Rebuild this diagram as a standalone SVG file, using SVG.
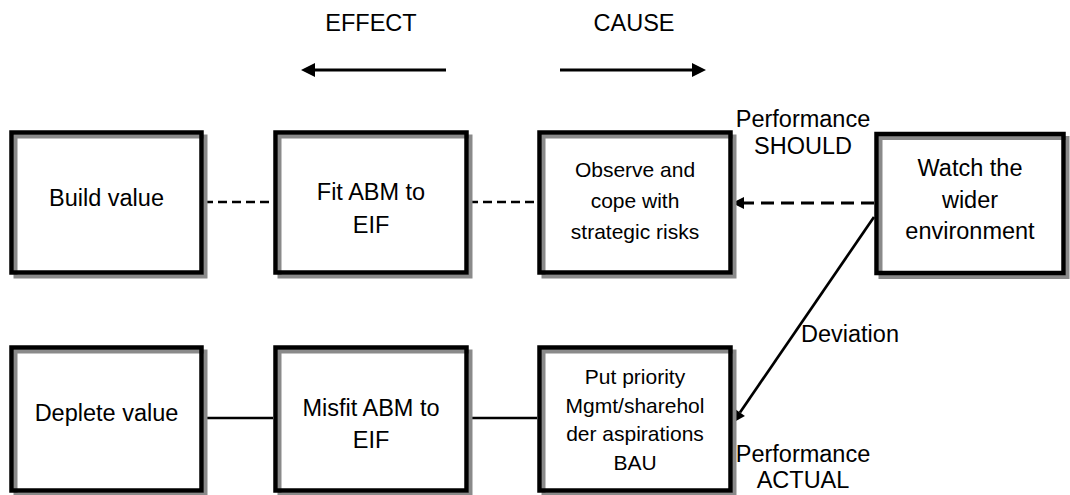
<svg xmlns="http://www.w3.org/2000/svg" width="1070" height="495" viewBox="0 0 1070 495">
  <style>
    .shadow { fill: #fff; stroke: #8a8a8a; stroke-width: 4; }
    .frame { fill: none; stroke: #000; stroke-width: 4.5; }
    .txt { font-family: "Liberation Sans", Arial, Helvetica, sans-serif; font-size: 23.5px; fill: #000; text-anchor: middle; }
    .sm { font-size: 21px; }
    .start { text-anchor: start; }
    .link { stroke: #000; stroke-width: 2.7; fill: none; }
    .dash { stroke-dasharray: 9 5; }
    .dash2 { stroke-dasharray: 13 7; stroke-width: 3; }
    .dir { stroke: #000; stroke-width: 3.2; fill: none; }
  </style>
  <defs>
    <marker id="headL" viewBox="0 0 10 10" refX="0" refY="5" markerWidth="15" markerHeight="14" markerUnits="userSpaceOnUse" orient="auto">
      <path d="M0,0 L10,5 L0,10 Z" fill="#000"/>
    </marker>
    <marker id="headS" viewBox="0 0 10 10" refX="0" refY="5" markerWidth="16" markerHeight="12" markerUnits="userSpaceOnUse" orient="auto">
      <path d="M0,0 L10,5 L0,10 Z" fill="#000"/>
    </marker>
  </defs>

  <!-- direction legend -->
  <g id="legend">
    <text class="txt" x="371" y="31">EFFECT</text>
    <text class="txt" x="634" y="31">CAUSE</text>
    <line class="dir" x1="446" y1="70" x2="315" y2="70" marker-end="url(#headL)"/>
    <line class="dir" x1="560" y1="70" x2="692" y2="70" marker-end="url(#headL)"/>
  </g>

  <!-- connectors -->
  <g id="connectors">
    <line class="link dash" x1="204" y1="202" x2="273" y2="202"/>
    <line class="link dash" x1="469" y1="202" x2="537" y2="202"/>
    <line class="link dash2" x1="874" y1="203" x2="744" y2="203" marker-end="url(#headS)"/>
    <line class="link" x1="204" y1="418" x2="273" y2="418"/>
    <line class="link" x1="469" y1="418" x2="537" y2="418"/>
    <line class="link" stroke-width="3" x1="874" y1="217" x2="740" y2="412.5" marker-end="url(#headS)"/>
    <text class="txt" x="803" y="127">Performance</text>
    <text class="txt" x="803" y="154">SHOULD</text>
    <text class="txt start" x="801" y="342">Deviation</text>
    <text class="txt" x="803" y="462">Performance</text>
    <text class="txt" x="803" y="488">ACTUAL</text>
  </g>

  <!-- top row -->
  <g id="build-value">
    <rect class="shadow" x="15.5" y="136.5" width="190" height="140"/>
    <rect class="frame" x="11.5" y="132.5" width="190" height="140"/>
    <text class="txt" x="106.5" y="206">Build value</text>
  </g>
  <g id="fit-abm">
    <rect class="shadow" x="279.5" y="136.5" width="191" height="140"/>
    <rect class="frame" x="275.5" y="132.5" width="191" height="140"/>
    <text class="txt" x="371" y="200">Fit ABM to</text>
    <text class="txt" x="371" y="233">EIF</text>
  </g>
  <g id="observe-cope">
    <rect class="shadow" x="543.5" y="136.5" width="191" height="140"/>
    <rect class="frame" x="539.5" y="132.5" width="191" height="140"/>
    <text class="txt sm" x="635" y="177">Observe and</text>
    <text class="txt sm" x="635" y="208">cope with</text>
    <text class="txt sm" x="635" y="239">strategic risks</text>
  </g>
  <g id="watch-environment">
    <rect class="shadow" x="880.5" y="138" width="187" height="139"/>
    <rect class="frame" x="876.5" y="134" width="187" height="139"/>
    <text class="txt" x="970" y="176">Watch the</text>
    <text class="txt" x="970" y="208">wider</text>
    <text class="txt" x="970" y="239">environment</text>
  </g>

  <!-- bottom row -->
  <g id="deplete-value">
    <rect class="shadow" x="15.5" y="351.5" width="190" height="143"/>
    <rect class="frame" x="11.5" y="347.5" width="190" height="143"/>
    <text class="txt" x="106.5" y="421">Deplete value</text>
  </g>
  <g id="misfit-abm">
    <rect class="shadow" x="279.5" y="351.5" width="191" height="143"/>
    <rect class="frame" x="275.5" y="347.5" width="191" height="143"/>
    <text class="txt" x="371" y="416">Misfit ABM to</text>
    <text class="txt" x="371" y="448">EIF</text>
  </g>
  <g id="put-priority">
    <rect class="shadow" x="543.5" y="351.5" width="191" height="143"/>
    <rect class="frame" x="539.5" y="347.5" width="191" height="143"/>
    <text class="txt sm" x="635" y="384">Put priority</text>
    <text class="txt sm" x="635" y="412.5">Mgmt/sharehol</text>
    <text class="txt sm" x="635" y="441">der aspirations</text>
    <text class="txt sm" x="635" y="469.5">BAU</text>
  </g>
</svg>
